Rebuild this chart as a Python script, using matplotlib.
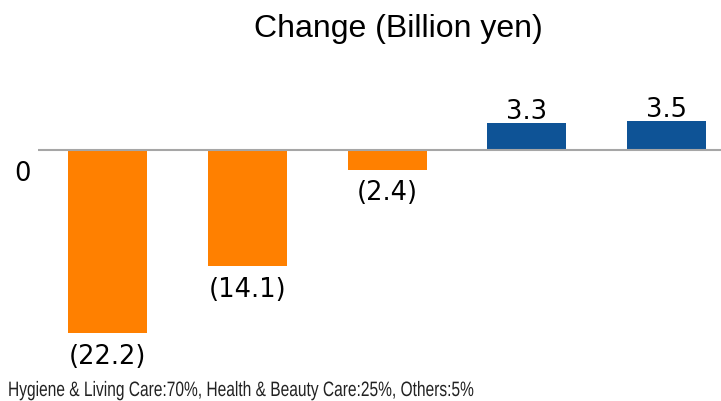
import matplotlib.pyplot as plt
from matplotlib.textpath import TextPath
from matplotlib.patches import PathPatch
from matplotlib.font_manager import FontProperties
from matplotlib.transforms import Affine2D

# data
segments = ["A", "B", "C", "D", "E"]
values = [-22.2, -14.1, -2.4, 3.3, 3.5]
labels = ["(22.2)", "(14.1)", "(2.4)", "3.3", "3.5"]
neg_color = "#FF8000"
pos_color = "#0E5396"
footer = "Hygiene & Living Care:70%, Health & Beauty Care:25%, Others:5%"

W, H = 721, 401
fig = plt.figure(figsize=(W / 100, H / 100), dpi=100)

# axes placed in pixel terms: x 38..721, y 60..350 (zero line at y=150)
ax_left, ax_right, ax_top, ax_bot = 38, 721, 60, 350
ax = fig.add_axes([ax_left / W, 1 - ax_bot / H, (ax_right - ax_left) / W, (ax_bot - ax_top) / H])

px_per_unit = 8.24
ax.set_ylim(-(ax_bot - 150) / px_per_unit, (150 - ax_top) / px_per_unit)
ax.set_xlim(-0.5, 4.39)

x = range(len(values))
colors = [neg_color if v < 0 else pos_color for v in values]
ax.bar(x, values, width=0.566, color=colors, zorder=2)
ax.axhline(0, color="#A6A6A6", lw=1.5, zorder=3)

for i, (v, lab) in enumerate(zip(values, labels)):
    if v < 0:
        ax.text(i, v - 1.3, lab, ha="center", va="top", fontsize=18.5, family="DejaVu Sans")
    else:
        ax.text(i, v - 0.25, lab, ha="center", va="bottom", fontsize=18.5, family="DejaVu Sans")

for s in ax.spines.values():
    s.set_visible(False)
ax.set_xticks([])
ax.set_yticks([])

fig.text(23 / W, 1 - 174 / H, "0", ha="center", va="center", fontsize=18.5, family="DejaVu Sans")
fig.text(398 / W, 1 - 29 / H, "Change (Billion yen)", ha="center", va="center", fontsize=23,
         family="Liberation Sans")

# footer is drawn condensed, like the original
tp = TextPath((0, 0), footer, size=15 * 100 / 72, prop=FontProperties(family="Liberation Sans"))
patch = PathPatch(tp, facecolor="#222222", edgecolor="none",
                  transform=Affine2D().scale(0.745, 1).translate(8, H - 396))
fig.add_artist(patch)

fig.savefig("out.png", dpi=100)
